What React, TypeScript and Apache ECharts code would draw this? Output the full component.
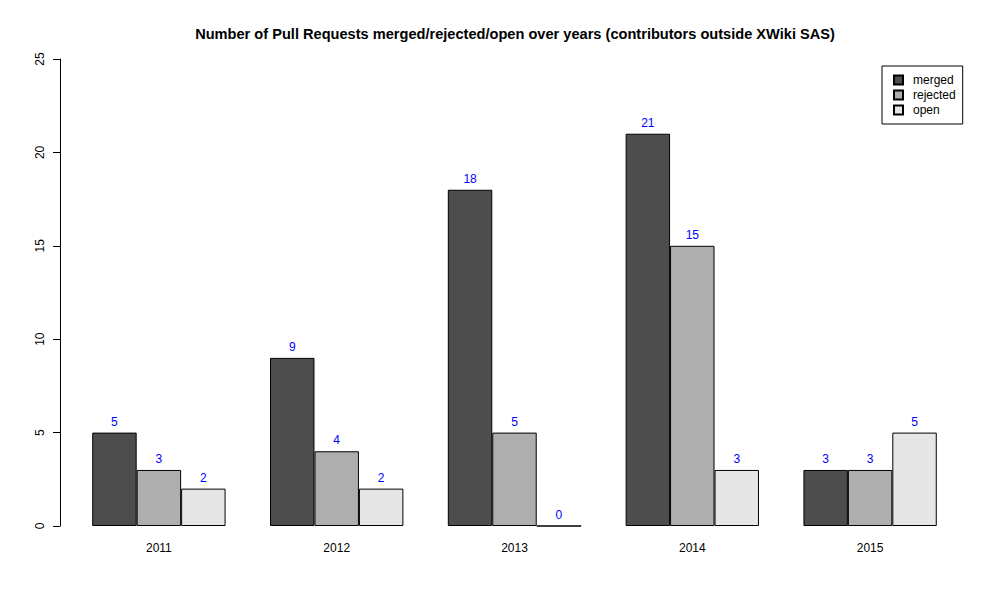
import { useEffect, useRef } from "react";
import * as echarts from "echarts";

const years = ["2011", "2012", "2013", "2014", "2015"];
const merged = [5, 9, 18, 21, 3];
const rejected = [3, 4, 5, 15, 3];
const open = [2, 2, 0, 3, 5];

const FONT = "Liberation Sans, Arial, sans-serif";

const App = () => {
  const chartRef = useRef<HTMLDivElement | null>(null);

  useEffect(() => {
    if (!chartRef.current) return;
    const chart = echarts.init(chartRef.current, undefined, { renderer: "svg" });

    const makeSeries = (name: string, data: number[], color: string) => ({
      name,
      type: "bar",
      data,
      barGap: "0%",
      barCategoryGap: "25%",
      itemStyle: { color, borderColor: "#000", borderWidth: 1 },
      label: {
        show: true,
        position: "top",
        distance: 5,
        color: "#0000ff",
        fontSize: 12,
        fontFamily: FONT,
      },
      emphasis: { disabled: true },
    });

    chart.setOption({
      animation: false,
      backgroundColor: "#fff",
      title: {
        text: "Number of Pull Requests merged/rejected/open over years (contributors outside XWiki SAS)",
        left: 510,
        textAlign: "center",
        top: 21,
        textStyle: { fontSize: 14.6, fontWeight: "bold", color: "#000", fontFamily: FONT },
      },
      legend: {
        orient: "vertical",
        left: 882,
        top: 66,
        padding: [8, 7, 8, 11],
        itemGap: 3,
        itemWidth: 9,
        itemHeight: 9,
        icon: "rect",
        borderColor: "#000",
        borderWidth: 1,
        textStyle: { fontSize: 12, color: "#000", fontFamily: FONT, padding: [0, 0, 0, 5] },
        data: ["merged", "rejected", "open"],
      },
      grid: { left: 70, right: 41, top: 59, bottom: 74, containLabel: false },
      xAxis: {
        type: "category",
        data: years,
        axisLine: { show: false },
        axisTick: { show: false },
        axisLabel: { fontSize: 12, color: "#000", fontFamily: FONT, margin: 16 },
      },
      yAxis: {
        type: "value",
        min: 0,
        max: 25,
        interval: 5,
        offset: 10,
        splitLine: { show: false },
        axisLine: { show: true, lineStyle: { color: "#000", width: 1 } },
        axisTick: { show: true, length: 7, lineStyle: { color: "#000" } },
        axisLabel: { fontSize: 12, color: "#000", fontFamily: FONT, rotate: 90, margin: 14 },
      },
      series: [
        makeSeries("merged", merged, "#4D4D4D"),
        makeSeries("rejected", rejected, "#AEAEAE"),
        makeSeries("open", open, "#E6E6E6"),
      ],
    });

    return () => {
      chart.dispose();
    };
  }, []);

  return <div ref={chartRef} style={{ width: 1000, height: 600, margin: -8 }} />;
};

export default App;
